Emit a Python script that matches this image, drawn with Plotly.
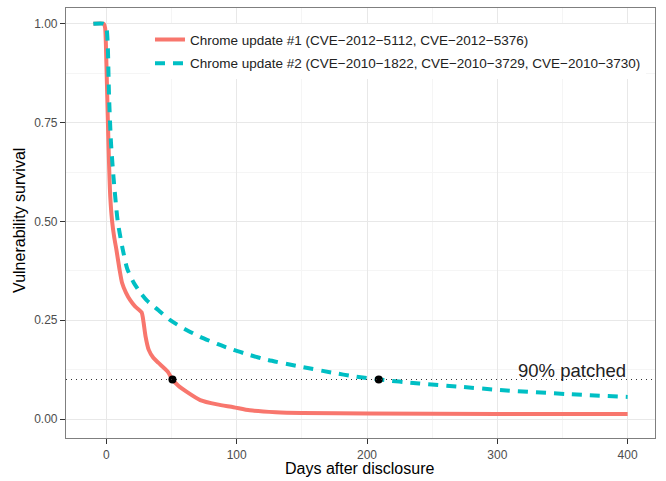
import plotly.graph_objects as go

# Series 1: Chrome update #1
days1 = [-10, -2, -1, 0, 1, 2, 3, 4.4, 6, 7.7, 10, 12, 15, 18.4, 22, 27, 28.5, 30, 32.5,
         36, 40, 47, 50.7, 55, 62, 72, 85, 97.5, 110, 130, 150, 200, 300, 400]
surv1 = [1.0, 1.0, 0.99, 0.90, 0.77, 0.65, 0.56, 0.50, 0.46, 0.428, 0.38, 0.345, 0.32, 0.30,
         0.285, 0.27, 0.245, 0.21, 0.175, 0.155, 0.142, 0.12, 0.10, 0.085, 0.068, 0.048, 0.037,
         0.030, 0.022, 0.017, 0.015, 0.014, 0.013, 0.013]

# Series 2: Chrome update #2
days2 = [-10, -2, 0, 1, 2, 3.5, 5.5, 8.7, 12.5, 16, 21, 26, 31, 40, 49, 60, 72, 85, 97.5,
         110, 123, 149, 174, 190, 209, 240, 270, 302, 354, 400]
surv2 = [1.0, 1.0, 0.99, 0.95, 0.82, 0.70, 0.61, 0.50, 0.43, 0.38, 0.345, 0.32, 0.30, 0.275,
         0.25, 0.228, 0.208, 0.19, 0.175, 0.162, 0.15, 0.1325, 0.117, 0.108, 0.10, 0.09, 0.082,
         0.0735, 0.063, 0.056]

# 90% patched points
patch_days = [50.7, 209]
patch_level = 0.10

names = ["Chrome update #1 (CVE\u22122012\u22125112, CVE\u22122012\u22125376)",
         "Chrome update #2 (CVE\u22122010\u22121822, CVE\u22122010\u22123729, CVE\u22122010\u22123730)"]

xticks = [0, 100, 200, 300, 400]
yticks = [0.0, 0.25, 0.5, 0.75, 1.0]
ytext = ["0.00", "0.25", "0.50", "0.75", "1.00"]

RED = "#F8766D"
TEAL = "#00BFC4"
FONT = "Liberation Sans"

fig = go.Figure()
fig.add_trace(go.Scatter(x=days1, y=surv1, mode="lines", name=names[0], legendgroup="a",
                         line=dict(color=RED, width=4, shape="spline", smoothing=0.6)))
fig.add_trace(go.Scatter(x=days2, y=surv2, mode="lines", name=names[1], legendgroup="b",
                         line=dict(color=TEAL, width=4, dash="10px,8px", shape="spline", smoothing=0.6)))
fig.add_trace(go.Scatter(x=patch_days, y=[patch_level] * len(patch_days), mode="markers",
                         showlegend=False, marker=dict(color="black", size=8)))

fig.add_shape(type="line", xref="paper", x0=0, x1=1, yref="y", y0=patch_level, y1=patch_level,
              line=dict(color="#333333", width=1.2, dash="1px,4px"), layer="above")

fig.add_annotation(x=400, y=patch_level, xref="x", yref="y", text="90% patched",
                   showarrow=False, xanchor="right", yanchor="bottom", yshift=-3,
                   font=dict(family=FONT, size=18.5, color="#222222"))

# axis titles
fig.add_annotation(x=0.499, y=-0.072, xref="paper", yref="paper", text="Days after disclosure",
                   showarrow=False, xanchor="center", yanchor="middle",
                   font=dict(family=FONT, size=16, color="black"))
fig.add_annotation(x=-0.078, y=0.505, xref="paper", yref="paper", text="Vulnerability survival",
                   showarrow=False, xanchor="center", yanchor="middle", textangle=-90,
                   font=dict(family=FONT, size=16, color="black"))

axis_common = dict(showline=True, mirror=True, linecolor="#7f7f7f", linewidth=1.2,
                   ticks="outside", ticklen=5, tickcolor="#333333", tickwidth=1,
                   gridcolor="#e8e8e8", gridwidth=1, zeroline=False, automargin=False,
                   tickfont=dict(family=FONT, size=12, color="#4d4d4d"),
                   minor=dict(showgrid=True, gridcolor="#f5f5f5", gridwidth=1))

fig.update_xaxes(range=[-31, 421], tickvals=xticks, **axis_common)
fig.update_xaxes(minor=dict(tickvals=[-50, 50, 150, 250, 350], ticks=""))
fig.update_yaxes(range=[-0.048, 1.04], tickvals=yticks, ticktext=ytext, **axis_common)
fig.update_yaxes(minor=dict(tickvals=[0.125, 0.375, 0.625, 0.875], ticks=""))

fig.update_layout(
    width=666, height=481,
    margin=dict(l=66, r=11, t=8, b=43),
    plot_bgcolor="white", paper_bgcolor="white",
    font=dict(family=FONT),
    legend=dict(x=0.1426, y=0.962, xanchor="left", yanchor="top",
                bgcolor="white", borderwidth=0, traceorder="grouped", tracegroupgap=3,
                font=dict(family=FONT, size=13.5, color="#222222")),
)

fig.write_html("out.html", config={"displayModeBar": False},
               post_script="document.body.style.margin='0';document.body.style.overflow='hidden';")
